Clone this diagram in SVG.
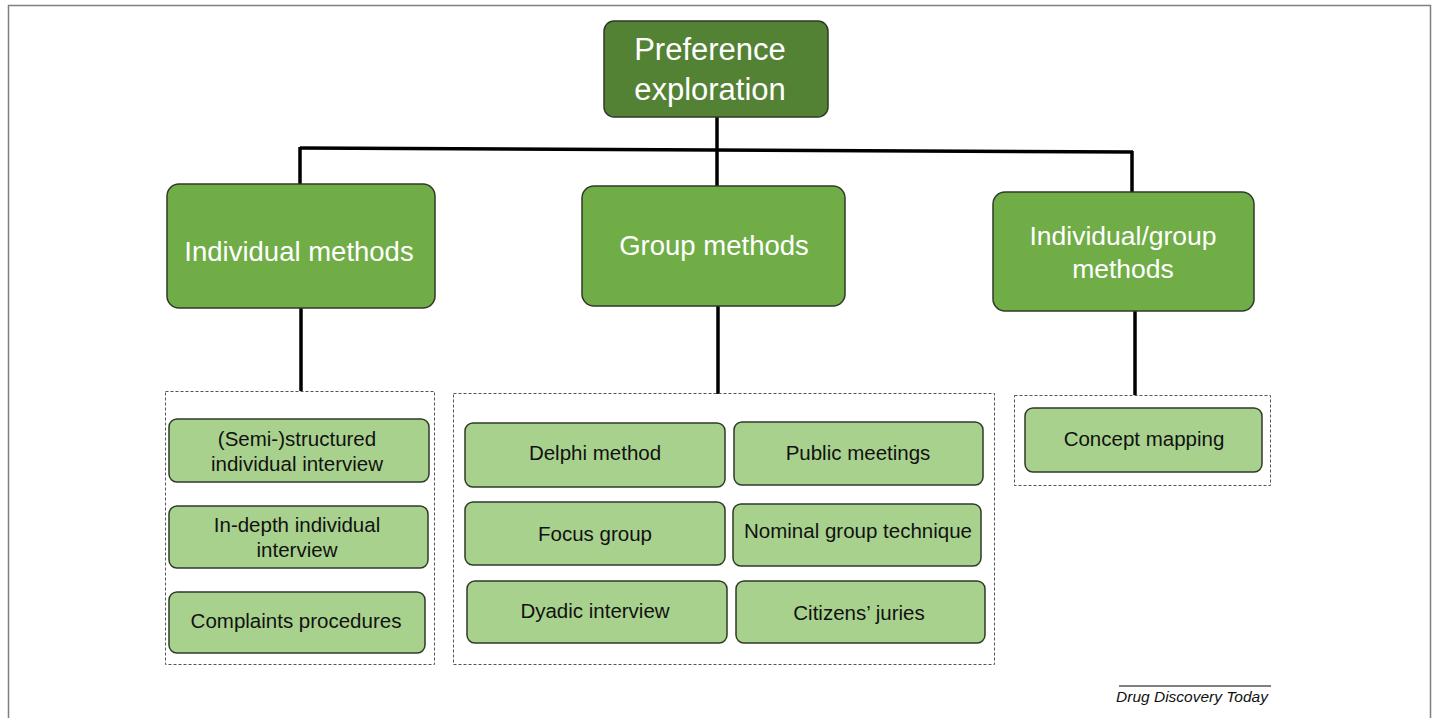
<svg xmlns="http://www.w3.org/2000/svg" width="1435" height="718" viewBox="0 0 1435 718">
<style>
text{font-family:"Liberation Sans",Arial,Helvetica,sans-serif;text-anchor:middle}
.top{fill:#548235;stroke:#2f3a28;stroke-width:1.5}
.mid{fill:#70AD47;stroke:#2f3a28;stroke-width:1.5}
.leaf{fill:#A9D18E;stroke:#2f3a28;stroke-width:1.5}
.wt{fill:#ffffff}
.bt{fill:#111111;font-size:20.5px}
.dash{fill:none;stroke:#555555;stroke-width:1;stroke-dasharray:3 2}
.conn{stroke:#000000;stroke-width:3.5;fill:none}
</style>
<rect x="0" y="0" width="1435" height="718" fill="#ffffff"/>
<path d="M8.5 718 V5.5 H1430.5 V718" fill="none" stroke="#7f7f7f" stroke-width="1.5"/>
<g id="connectors">
<line class="conn" x1="300" y1="148" x2="1133" y2="152"/>
<line class="conn" x1="717" y1="117" x2="717" y2="186"/>
<line class="conn" x1="300" y1="147" x2="300" y2="185"/>
<line class="conn" x1="1132" y1="151" x2="1132" y2="193"/>
<line class="conn" x1="301" y1="308" x2="301" y2="391"/>
<line class="conn" x1="718" y1="306" x2="718" y2="394"/>
<line class="conn" x1="1135" y1="311" x2="1135" y2="395"/>
</g>
<g id="preference-exploration">
<rect class="top" x="604" y="21" width="224" height="96" rx="10"/>
<text class="wt" x="710" y="60" font-size="31">Preference</text>
<text class="wt" x="710" y="100" font-size="31">exploration</text>
</g>
<g id="individual-methods">
<rect class="mid" x="167" y="184" width="268" height="124" rx="12"/>
<text class="wt" x="299" y="261" font-size="27.5">Individual methods</text>
</g>
<g id="group-methods">
<rect class="mid" x="582" y="186" width="263" height="120" rx="12"/>
<text class="wt" x="714" y="255" font-size="27.5">Group methods</text>
</g>
<g id="individual-group-methods">
<rect class="mid" x="993" y="192" width="261" height="119" rx="12"/>
<text class="wt" x="1123" y="245" font-size="26.5">Individual/group</text>
<text class="wt" x="1123" y="278" font-size="26.5">methods</text>
</g>
<g id="individual-list">
<rect class="dash" x="165.5" y="391.5" width="269" height="273"/>
</g>
<g id="semi-structured">
<rect class="leaf" x="169" y="419" width="260" height="63" rx="8"/>
<text class="bt" x="297" y="446">(Semi-)structured</text>
<text class="bt" x="297" y="471">individual interview</text>
</g>
<g id="in-depth">
<rect class="leaf" x="169" y="506" width="259" height="62" rx="8"/>
<text class="bt" x="297" y="532">In-depth individual</text>
<text class="bt" x="297" y="557">interview</text>
</g>
<g id="complaints">
<rect class="leaf" x="169" y="592" width="256" height="61" rx="8"/>
<text class="bt" x="296" y="628">Complaints procedures</text>
</g>
<g id="group-list">
<rect class="dash" x="453.5" y="393.5" width="541" height="271"/>
</g>
<g id="delphi">
<rect class="leaf" x="465" y="423" width="260" height="64" rx="8"/>
<text class="bt" x="595" y="460">Delphi method</text>
</g>
<g id="public-meetings">
<rect class="leaf" x="734" y="422" width="249" height="63" rx="8"/>
<text class="bt" x="858" y="460">Public meetings</text>
</g>
<g id="focus-group">
<rect class="leaf" x="465" y="502" width="260" height="63" rx="8"/>
<text class="bt" x="595" y="541">Focus group</text>
</g>
<g id="nominal-group">
<rect class="leaf" x="733" y="504" width="248" height="62" rx="8"/>
<text class="bt" x="858" y="538">Nominal group technique</text>
</g>
<g id="dyadic">
<rect class="leaf" x="467" y="581" width="260" height="62" rx="8"/>
<text class="bt" x="595" y="618">Dyadic interview</text>
</g>
<g id="citizens-juries">
<rect class="leaf" x="736" y="581" width="249" height="62" rx="8"/>
<text class="bt" x="859" y="620">Citizens’ juries</text>
</g>
<g id="indgroup-list">
<rect class="dash" x="1014.5" y="395.5" width="256" height="90"/>
</g>
<g id="concept-mapping">
<rect class="leaf" x="1025" y="408" width="237" height="64" rx="8"/>
<text class="bt" x="1144" y="446">Concept mapping</text>
</g>
<g id="footer">
<line x1="1119" y1="686" x2="1271" y2="686" stroke="#000" stroke-width="1"/>
<text x="1192" y="702" font-size="15.5" font-style="italic" fill="#111">Drug Discovery Today</text>
</g>
</svg>
